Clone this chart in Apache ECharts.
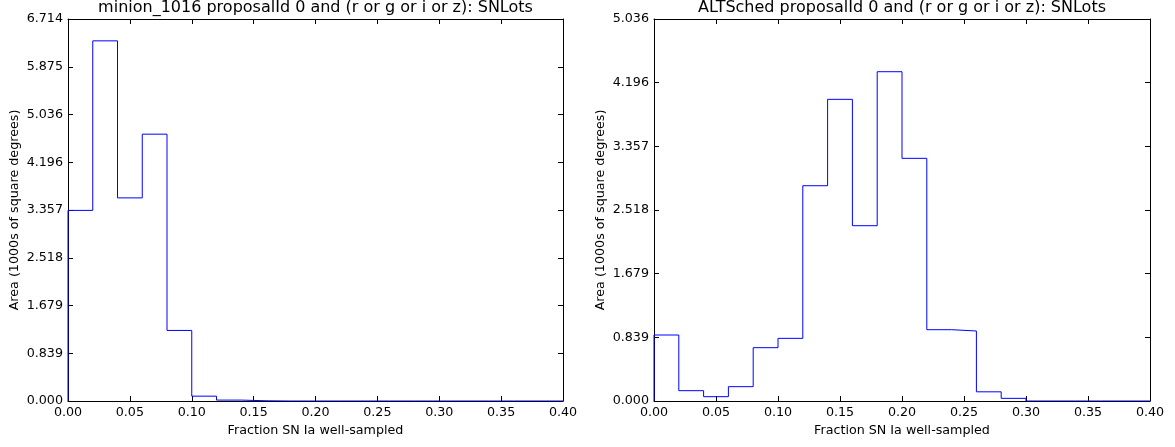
<!DOCTYPE html>
<html>
<head>
<meta charset="utf-8">
<script src="https://cdn.jsdelivr.net/npm/echarts@6/dist/echarts.min.js"></script>
<style>
html,body{margin:0;padding:0;background:#fff;}
#chart{width:1175px;height:447px;}
</style>
</head>
<body>
<div id="chart"></div>
<script>
// Bin left edges (bin width 0.02)
const binStarts = [0.00,0.02,0.04,0.06,0.08,0.10,0.12,0.14,0.16,0.18,0.20,0.22,0.24,0.26,0.28,0.30,0.32,0.34,0.36,0.38];
const binWidth = 0.02;
// Area (1000s of square degrees) per bin
const leftValues  = [3.35,6.33,3.57,4.69,1.24,0.085,0.016,0.004,0,0,0,0,0,0,0,0,0,0,0,0];
const rightValues = [0.87,0.136,0.057,0.189,0.703,0.826,2.838,3.977,2.311,4.341,3.199,0.94,0.923,0.121,0.035,0,0,0,0,0];
const leftTitle  = 'minion_1016 proposalId 0 and (r or g or i or z): SNLots';
const rightTitle = 'ALTSched proposalId 0 and (r or g or i or z): SNLots';
const xLabel = 'Fraction SN Ia well-sampled';
const yLabel = 'Area (1000s of square degrees)';
const xTickLabels = ['0.00','0.05','0.10','0.15','0.20','0.25','0.30','0.35','0.40'];
const leftYTicks  = ['0.000','0.839','1.679','2.518','3.357','4.196','5.036','5.875','6.714'];
const rightYTicks = ['0.000','0.839','1.679','2.518','3.357','4.196','5.036'];

const FONT = 'DejaVu Sans';
const LBL = 12.7;
const grids = [
  {left:68, top:19, width:495, height:382},
  {left:654, top:19, width:496, height:382}
];

function stepData(vals){
  const d = [[binStarts[0],0]];
  vals.forEach((v,i)=>{
    d.push([binStarts[i], v]);
    d.push([binStarts[i]+binWidth, v]);
  });
  d.push([binStarts[binStarts.length-1]+binWidth, 0]);
  return d;
}

const axisLineStyle = {show:true, onZero:false, lineStyle:{color:'#000', width:1}};
const tickStyle = {show:true, inside:true, length:5, lineStyle:{color:'#000', width:1}};

const xAxes = [], yAxes = [], titles = [], series = [];
const panels = [
  {vals:leftValues, ticks:leftYTicks, title:leftTitle},
  {vals:rightValues, ticks:rightYTicks, title:rightTitle}
];
panels.forEach((p,gi)=>{
  const g = grids[gi];
  const nT = p.ticks.length-1;
  const ymax = parseFloat(p.ticks[nT]);
  const yint = ymax/nT;
  xAxes.push({
    type:'value', gridIndex:gi, position:'bottom', min:0, max:0.4, interval:0.05,
    axisLine:axisLineStyle, axisTick:tickStyle, splitLine:{show:false},
    axisLabel:{color:'#000', fontFamily:FONT, fontSize:LBL, margin:5,
      formatter:(v)=>xTickLabels[Math.round(v/0.05)]},
    name:xLabel, nameLocation:'middle', nameGap:19,
    nameTextStyle:{color:'#000', fontFamily:FONT, fontSize:LBL}
  });
  xAxes.push({
    type:'value', gridIndex:gi, position:'top', min:0, max:0.4, interval:0.05,
    axisLine:axisLineStyle, axisTick:tickStyle, splitLine:{show:false},
    axisLabel:{show:false}
  });
  yAxes.push({
    type:'value', gridIndex:gi, position:'left', min:0, max:ymax, interval:yint,
    axisLine:axisLineStyle, axisTick:tickStyle, splitLine:{show:false},
    axisLabel:{color:'#000', fontFamily:FONT, fontSize:LBL, margin:5,
      formatter:(v)=>p.ticks[Math.round(v/yint)]},
    name:yLabel, nameLocation:'middle', nameGap:47, nameRotate:90,
    nameTextStyle:{color:'#000', fontFamily:FONT, fontSize:LBL}
  });
  yAxes.push({
    type:'value', gridIndex:gi, position:'right', min:0, max:ymax, interval:yint,
    axisLine:axisLineStyle, axisTick:tickStyle, splitLine:{show:false},
    axisLabel:{show:false}
  });
  titles.push({
    text:p.title, left:g.left + g.width/2, top:0, padding:0, textAlign:'center',
    textStyle:{color:'#000', fontFamily:FONT, fontSize:16, fontWeight:'normal'}
  });
  series.push({
    type:'line', xAxisIndex:gi*2, yAxisIndex:gi*2, data:stepData(p.vals),
    showSymbol:false, symbol:'none', lineStyle:{color:'#0000ff', width:1},
    clip:true, z:1
  });
});

const chart = echarts.init(document.getElementById('chart'), null, {renderer:'canvas'});
chart.setOption({
  animation:false,
  backgroundColor:'#fff',
  title:titles,
  grid:grids,
  xAxis:xAxes,
  yAxis:yAxes,
  series:series
});
</script>
</body>
</html>
